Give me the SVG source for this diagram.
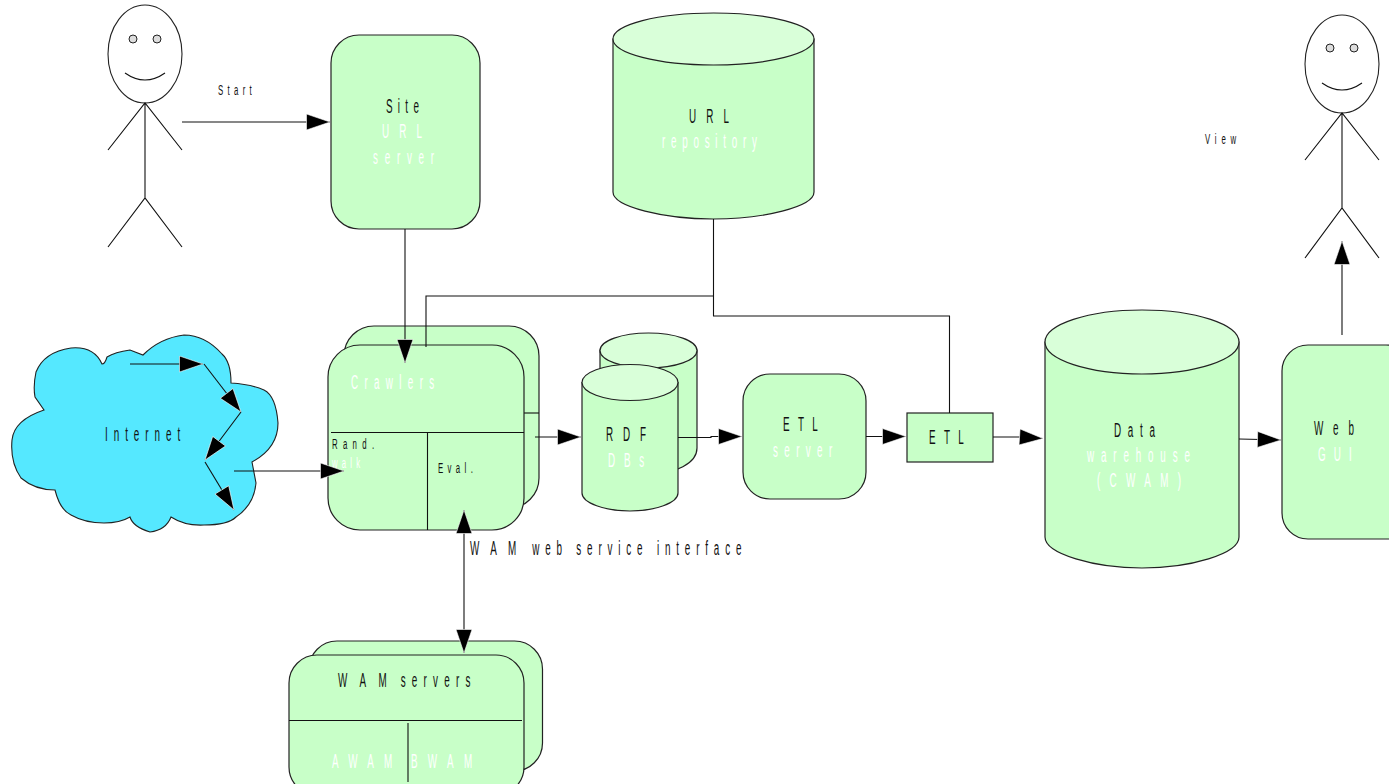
<svg xmlns="http://www.w3.org/2000/svg" width="1389" height="784" viewBox="0 0 1389 784">
<style>
.b{fill:#c8ffc8;stroke:#222;stroke-width:1.2}
.t{fill:#d9ffd9;stroke:#222;stroke-width:1.2}
.l{fill:none;stroke:#111;stroke-width:1.1}
.a{marker-end:url(#ah)}
.p{fill:#fff;stroke:#222;stroke-width:1.1}
.e{fill:#ddd;stroke:#222;stroke-width:1}
text{font-family:"Liberation Sans",Arial,sans-serif;fill:#111}
.w{fill:#fff}
.s{font-size:15px}
.m{font-size:21px}
</style>
<defs>
<marker id="ah" markerUnits="userSpaceOnUse" markerWidth="26" markerHeight="20" refX="24" refY="8.5" orient="auto"><path d="M0.5,0.5L24,8.5L0.5,16.5Z" fill="#000" stroke="#fff" stroke-width="0.6"/></marker>
<marker id="as" markerUnits="userSpaceOnUse" markerWidth="26" markerHeight="20" refX="24" refY="8.5" orient="auto-start-reverse"><path d="M0.5,0.5L24,8.5L0.5,16.5Z" fill="#000" stroke="#fff" stroke-width="0.6"/></marker>
</defs>
<g id="user-left">
<ellipse class="p" cx="145" cy="54" rx="37" ry="49"/><circle class="e" cx="133" cy="39" r="4"/><circle class="e" cx="157" cy="39" r="4"/>
<path class="l" d="M125,73Q145,87 165,73M145,103V198M108,150L145,103L182,150M108,247L145,198L182,247"/>
</g>
<g id="user-right">
<ellipse class="p" cx="1342" cy="64" rx="37" ry="49"/><circle class="e" cx="1330" cy="48" r="4"/><circle class="e" cx="1354" cy="48" r="4"/>
<path class="l" d="M1322,83Q1342,97 1362,83M1342,113V208M1305,160L1342,113L1379,160M1305,258L1342,208L1379,258"/>
</g>
<g id="site"><rect class="b" x="331" y="35" width="149" height="194" rx="28"/>
<text class="m" transform="translate(386,113) scale(.47,1)" textLength="70">Site</text>
<text class="m w" transform="translate(382,138) scale(.47,1)" textLength="85">URL</text>
<text class="m w" transform="translate(373,164) scale(.47,1)" textLength="130">server</text></g>
<g id="url-repo"><path class="b" d="M613,39V192C613,207 665,219 713,219C763,219 814,207 814,192V39Z"/><ellipse class="t" cx="713.500" cy="39" rx="100.500" ry="26"/>
<text class="m" transform="translate(689,123) scale(.47,1)" textLength="85">URL</text>
<text class="m w" transform="translate(662,148) scale(.47,1)" textLength="202">repository</text></g>
<g id="internet"><path d="M102,364Q94,346 71,348Q44,352 36,372Q33,386 35,397L44,410Q14,420 12,440Q10,462 21,478Q35,490 55,490Q60,510 71,515Q85,523 104,523Q120,523 130,517Q133,527 150,532Q166,530 171,517Q185,526 204,525Q228,525 236,517Q254,505 256,483L252,462Q278,448 278,423Q276,396 264,390Q250,384 231,383Q231,362 222,354Q205,335 184,335Q160,338 143,355L130,350Q115,352 107,357Q105,364 102,364Z" fill="#55e8ff" stroke="#222" stroke-width="1.1"/>
<text class="m" transform="translate(105,441) scale(.47,1)" textLength="160">Internet</text></g>
<g id="crawlers"><rect class="b" x="344" y="326" width="195" height="182" rx="30"/><path class="l" d="M524,413H539"/>
<rect class="b" x="328" y="345" width="196" height="185" rx="32"/><path class="l" d="M331,432.500H524M427.500,432.500V530"/>
<text class="m w" transform="translate(351,389) scale(.47,1)" textLength="177">Crawlers</text>
<text class="s" transform="translate(332,449) scale(.52,1)" textLength="81">Rand.</text>
<text class="s w" transform="translate(332,468) scale(.52,1)" textLength="54">walk</text>
<text class="s" transform="translate(438,473) scale(.52,1)" textLength="67">Eval.</text></g>
<g id="wam-servers"><rect class="b" x="309" y="641" width="233.500" height="130" rx="28"/>
<rect class="b" x="289" y="655" width="235" height="140" rx="28"/><path class="l" d="M289,720.500H522M408,723V782"/>
<text class="m" transform="translate(338,687) scale(.47,1)"><tspan letter-spacing="26.500">WA</tspan><tspan letter-spacing="12">M </tspan><tspan letter-spacing="13.300">servers</tspan></text>
<text class="m w" transform="translate(332,768) scale(.47,1)" textLength="128">AWAM</text>
<text class="m w" transform="translate(411,768) scale(.47,1)" textLength="130">BWAM</text></g>
<g id="rdf-back"><path class="b" d="M600,350V475H650C675,473 697,464 697,448V350Z"/><ellipse class="t" cx="648.500" cy="350.500" rx="48.500" ry="17.500"/></g>
<g id="rdf"><path class="b" d="M582,382.500V493C582,503 605,511 630,511C655,511 678,503 678,493V382.500Z"/><ellipse class="t" cx="630" cy="382.500" rx="48" ry="18"/>
<text class="m" transform="translate(606,441) scale(.47,1)" textLength="85">RDF</text>
<text class="m w" transform="translate(608,467) scale(.47,1)" textLength="77">DBs</text></g>
<g id="etl-server"><rect class="b" x="743" y="374" width="123" height="125" rx="27"/>
<text class="m" transform="translate(783,431) scale(.47,1)" textLength="74">ETL</text>
<text class="m w" transform="translate(773,457) scale(.47,1)" textLength="126">server</text></g>
<g id="etl"><rect class="b" x="907" y="413" width="86" height="49"/>
<text class="m" transform="translate(929,444) scale(.47,1)" textLength="74">ETL</text></g>
<g id="warehouse"><path class="b" d="M1045,342V537C1045,554 1095,568 1142,568C1190,568 1239,554 1239,537V342Z"/><ellipse class="t" cx="1142" cy="342" rx="97" ry="32"/>
<text class="m" transform="translate(1114,437) scale(.47,1)" textLength="87">Data</text>
<text class="m w" transform="translate(1087,462) scale(.47,1)" textLength="219">warehouse</text>
<text class="m w" transform="translate(1097,487) scale(.47,1)" textLength="179">(CWAM)</text></g>
<g id="web"><rect class="b" x="1282" y="345" width="130" height="194" rx="26"/>
<text class="m" transform="translate(1314,435) scale(.47,1)" textLength="85">Web</text>
<text class="m w" transform="translate(1318,461) scale(.47,1)" textLength="72">GUI</text></g>
<g id="connectors">
<path class="l a" d="M182,122H330"/>
<path class="l a" d="M405,229V363"/>
<path class="l" d="M426,347V296H713.500M713.500,219V316H949.500V413"/>
<path class="l a" d="M130,364H203"/>
<path class="l a" d="M204,364L241,412"/>
<path class="l a" d="M241,412L205,460"/>
<path class="l a" d="M205,462L234,510"/>
<path class="l a" d="M234,471H344"/>
<path class="l a" d="M535,437H581"/>
<path class="l a" d="M678,437.500H711V436.500H742"/>
<path class="l a" d="M866,436.500H906"/>
<path class="l a" d="M993,437H1020L1043,438.500"/>
<path class="l a" d="M1239,439L1281,440"/>
<path class="l a" d="M1342,335V241"/>
<path d="M464,510V653" fill="none" stroke="#111" stroke-width="1.1" marker-start="url(#as)" marker-end="url(#as)"/>
</g>
<g id="labels">
<text class="s" transform="translate(218,95) scale(.52,1)" textLength="65">Start</text>
<text class="s" transform="translate(1205,144) scale(.52,1)" textLength="60">View</text>
<text class="m" transform="translate(470,555) scale(.47,1)"><tspan letter-spacing="24">WA</tspan><tspan letter-spacing="14">M </tspan><tspan letter-spacing="12.400">web service interface</tspan></text>
</g>
</svg>
